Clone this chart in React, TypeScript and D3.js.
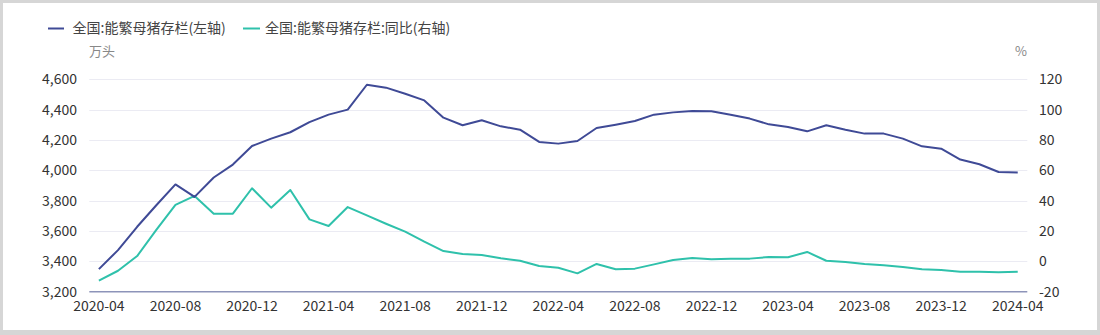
import React from "react";
import * as d3 from "d3";

const months: string[] = [
  "2020-04", "2020-05", "2020-06", "2020-07", "2020-08", "2020-09", "2020-10", "2020-11", "2020-12",
  "2021-01", "2021-02", "2021-03", "2021-04", "2021-05", "2021-06", "2021-07", "2021-08", "2021-09", "2021-10", "2021-11", "2021-12",
  "2022-01", "2022-02", "2022-03", "2022-04", "2022-05", "2022-06", "2022-07", "2022-08", "2022-09", "2022-10", "2022-11", "2022-12",
  "2023-01", "2023-02", "2023-03", "2023-04", "2023-05", "2023-06", "2023-07", "2023-08", "2023-09", "2023-10", "2023-11", "2023-12",
  "2024-01", "2024-02", "2024-03", "2024-04",
];

const sowStock: number[] = [
  3349, 3474, 3628, 3770, 3907, 3825, 3953, 4038, 4160,
  4209, 4251, 4318, 4367, 4400, 4564, 4545, 4505, 4461, 4347, 4297, 4330,
  4290, 4268, 4187, 4176, 4193, 4279, 4301, 4325, 4367, 4382, 4391, 4390,
  4367, 4341, 4303, 4286, 4257, 4297, 4268, 4242, 4242, 4209, 4158, 4143,
  4071, 4040, 3989, 3985,
];

const sowYoY: number[] = [
  -12.7, -6.2, 3.5, 20.7, 37.2, 43.1, 31.4, 31.4, 48.2,
  35.4, 47, 27.7, 23.3, 35.8, 30.3, 24.8, 19.6, 13, 6.8, 4.8, 4.2,
  2, 0.4, -3.1, -4.2, -7.9, -1.7, -5.2, -4.8, -2, 0.9, 2.2, 1.4,
  1.8, 1.8, 2.9, 2.7, 6.2, 0.4, -0.4, -1.7, -2.6, -3.7, -5.2, -5.7,
  -6.8, -6.8, -7.2, -6.8,
];

const leftTicks: number[] = [3200, 3400, 3600, 3800, 4000, 4200, 4400, 4600];
const rightTicks: number[] = [-20, 0, 20, 40, 60, 80, 100, 120];
const xTickLabels: string[] = [
  "2020-04", "2020-08", "2020-12", "2021-04", "2021-08", "2021-12", "2022-04",
  "2022-08", "2022-12", "2023-04", "2023-08", "2023-12", "2024-04",
];

const seriesNames = ["全国:能繁母猪存栏(左轴)", "全国:能繁母猪存栏:同比(右轴)"];
const BLUE = "#3f4a96";
const GREEN = "#2fc1ab";
const FONT = "'Noto Sans CJK SC', 'Noto Sans', sans-serif";

export default function App() {
  const W = 1100, H = 335;
  const left = 89.3, right = 1027.3, top = 79.3, bottom = 291.7;

  const x = d3.scaleBand<string>().domain(months).range([left, right]).padding(0);
  const cx = (m: string) => (x(m) as number) + x.bandwidth() / 2;
  const yL = d3.scaleLinear().domain([3200, 4600]).range([bottom, top]);
  const yR = d3.scaleLinear().domain([-20, 120]).range([bottom, top]);

  const lineL = d3.line<number>().x((_, i) => cx(months[i])).y((v) => yL(v));
  const lineR = d3.line<number>().x((_, i) => cx(months[i])).y((v) => yR(v));
  const fmt = d3.format(",");

  return (
    <svg width={W} height={H} style={{ position: "absolute", left: 0, top: 0 }} fontFamily={FONT}>
      <rect x={0} y={0} width={W} height={H} fill="#d6d6d6" />
      <rect x={3} y={3} width={1094} height={327} fill="#ffffff" />

      {/* legend */}
      <line x1={48} x2={64} y1={28.5} y2={28.5} stroke={BLUE} strokeWidth={2} />
      <text x={72.5} y={28.5} dy="0.35em" fontSize={14} fill="#444">{seriesNames[0]}</text>
      <line x1={243} x2={260} y1={28.5} y2={28.5} stroke={GREEN} strokeWidth={2} />
      <text x={265} y={28.5} dy="0.35em" fontSize={14} fill="#444">{seriesNames[1]}</text>

      <text x={102} y={51.7} dy="0.35em" fontSize={13} fill="#888" textAnchor="middle">万头</text>
      <text x={1021} y={51.7} dy="0.35em" fontSize={13} fill="#888" textAnchor="middle">%</text>

      {/* grid */}
      {leftTicks.slice(1).map((t) => (
        <line key={t} x1={left} x2={right} y1={Math.round(yL(t)) + 0.5} y2={Math.round(yL(t)) + 0.5} stroke="#ebebf3" strokeWidth={1} />
      ))}
      <line x1={left} x2={right} y1={bottom} y2={bottom} stroke="#8d94b9" strokeWidth={1.5} />

      {/* left axis labels */}
      {leftTicks.map((t) => (
        <text key={t} x={77} y={yL(t)} dy="0.35em" fontSize={14} fill="#333" textAnchor="end">{fmt(t)}</text>
      ))}
      {/* right axis labels */}
      {rightTicks.map((t) => (
        <text key={t} x={1039} y={yR(t)} dy="0.35em" fontSize={14} fill="#333" textAnchor="start">{t}</text>
      ))}
      {/* x labels */}
      {xTickLabels.map((m) => (
        <text key={m} x={cx(m)} y={306} dy="0.35em" fontSize={14} fill="#333" textAnchor="middle">{m}</text>
      ))}

      <path d={lineR(sowYoY) || ""} fill="none" stroke={GREEN} strokeWidth={2} strokeLinejoin="round" />
      <path d={lineL(sowStock) || ""} fill="none" stroke={BLUE} strokeWidth={2} strokeLinejoin="round" />
    </svg>
  );
}
